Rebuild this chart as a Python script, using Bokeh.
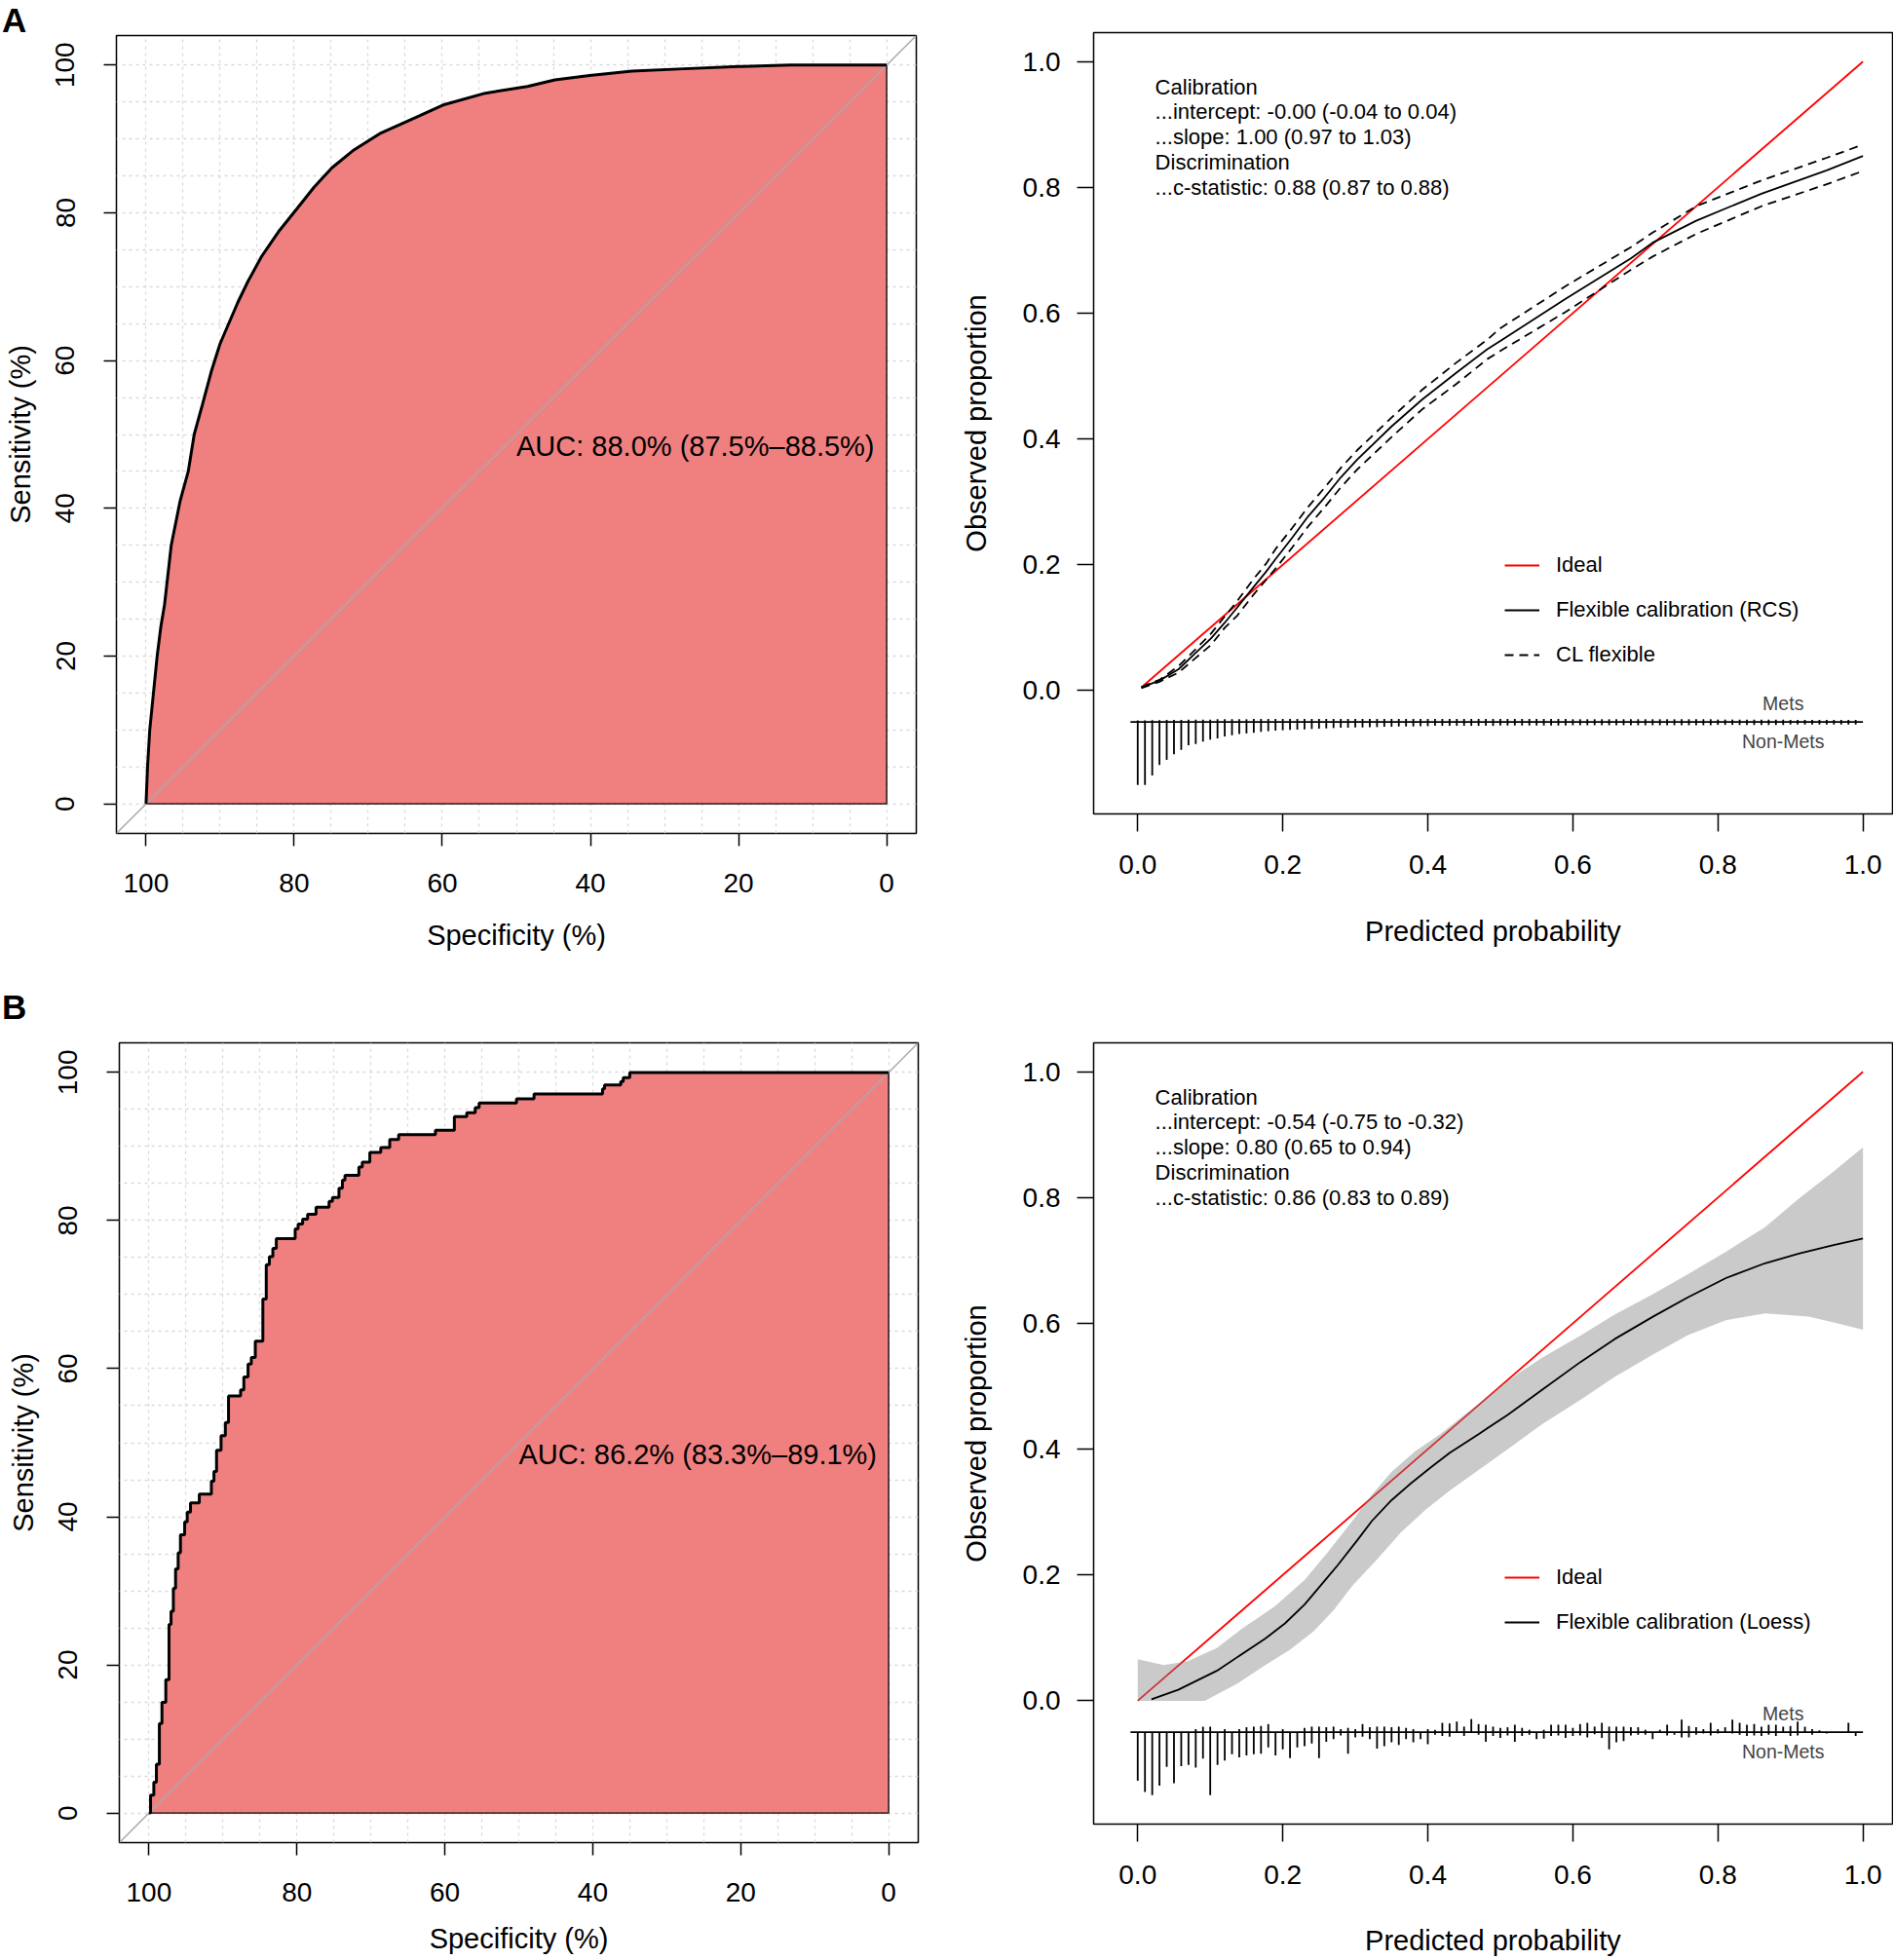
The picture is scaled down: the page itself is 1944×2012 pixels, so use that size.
from bokeh.plotting import figure
from bokeh.models import (Range1d, FixedTicker, PrintfTickFormatter, Label,
                          Legend, LegendItem, Div)
from bokeh.layouts import column, row
from bokeh.embed import file_html
from bokeh.resources import INLINE

FONT = "Liberation Sans"

# ------------------------------------------------------------------ data
roc_ticks = [0, 20, 40, 60, 80, 100]
roc_grid = [0, 5, 10, 15, 20, 25, 30, 35, 40, 45, 50, 55, 60, 65, 70, 75, 80, 85, 90, 95, 100]
cal_ticks = [0.0, 0.2, 0.4, 0.6, 0.8, 1.0]

# Panel A ROC (specificity %, sensitivity %)
specA = [100, 99.8, 99.5, 99.0, 98.5, 98.0, 97.5, 96.6, 95.4, 94.3, 93.5, 92.4, 91.2,
         90.0, 88.8, 87.6, 86.2, 84.4, 82.0, 79.6, 77.3, 74.9, 72.1, 68.3, 63.6, 59.9,
         54.2, 48.5, 44.8, 40.1, 34.4, 27.4, 20.0, 13.0, 0.0]
sensA = [0, 5, 10, 15, 20, 24, 27, 35, 41, 45, 50, 54, 58.5, 62.3, 65.1, 67.9, 70.8,
         74.1, 77.6, 80.6, 83.5, 86.1, 88.4, 90.8, 92.9, 94.6, 96.2, 97.1, 98.0, 98.6,
         99.2, 99.5, 99.8, 100, 100]
aucA = "AUC: 88.0% (87.5%\u201388.5%)"

# Panel B ROC steps: specificity at each vertical step, sensitivity reached
stepB_spec = [99.78, 99.34, 98.99, 98.59, 98.24, 97.72, 97.28, 97.01, 96.70, 96.40,
              96.05, 95.74, 95.17, 94.82, 94.38, 93.19, 91.56, 91.21, 90.86, 90.25,
              89.67, 89.24, 87.61, 87.17, 86.60, 86.16, 85.62, 84.60, 84.14, 83.72,
              83.25, 82.78, 80.23, 79.83, 79.22, 78.55, 77.41, 75.65, 75.19, 74.31,
              73.85, 73.50, 71.62, 71.16, 70.14, 68.66, 67.45, 66.24, 61.27, 58.71,
              57.03, 55.89, 55.36, 50.31, 47.94, 38.68, 38.41, 36.22, 35.88, 35.00]
stepB_sens = [2.42, 4.17, 6.59, 12.08, 14.94, 18.01, 25.48, 27.24, 30.32, 32.95,
              35.15, 37.57, 39.32, 40.64, 41.87, 43.06, 44.82, 46.13, 48.99, 50.97,
              52.72, 56.33, 57.12, 58.88, 60.63, 61.51, 63.70, 69.40, 74.04, 75.13,
              76.23, 77.55, 78.86, 79.52, 80.18, 80.84, 81.80, 82.60, 83.13, 84.36,
              85.46, 86.12, 87.22, 87.88, 89.20, 89.85, 90.95, 91.61, 92.19, 94.03,
              94.56, 95.26, 95.88, 96.45, 97.11, 97.77, 98.30, 98.78, 99.31, 100.0]
aucB = "AUC: 86.2% (83.3%\u201389.1%)"

# Panel A calibration (RCS) with confidence limits
calA_x = [0.005, 0.03, 0.0562, 0.08, 0.101, 0.12, 0.137, 0.16, 0.177, 0.19, 0.213, 0.235,
          0.258, 0.28, 0.3025, 0.35, 0.392, 0.44, 0.482, 0.50, 0.59, 0.68, 0.71, 0.77,
          0.86, 0.95, 1.0]
calA_fit = [0.005, 0.016, 0.034, 0.060, 0.083, 0.108, 0.132, 0.165, 0.189, 0.209, 0.243,
            0.277, 0.3076, 0.339, 0.367, 0.420, 0.4625, 0.506, 0.5426, 0.556, 0.623, 0.687,
            0.712, 0.747, 0.790, 0.827, 0.850]
calA_upper = [0.006, 0.017, 0.039, 0.066, 0.0906, 0.118, 0.142, 0.178, 0.2017, 0.225,
              0.2585, 0.292, 0.323, 0.354, 0.382, 0.434, 0.478, 0.522, 0.558, 0.576, 0.643,
              0.705, 0.728, 0.770, 0.811, 0.847, 0.868]
calA_lower = [0.004, 0.014, 0.0287, 0.052, 0.0725, 0.100, 0.119, 0.153, 0.176, 0.194,
              0.2275, 0.261, 0.292, 0.323, 0.3514, 0.403, 0.447, 0.488, 0.527, 0.540, 0.602,
              0.669, 0.690, 0.726, 0.770, 0.805, 0.826]
idealA_x = [0.008, 1.0]
statsA = ["Calibration", "...intercept: -0.00 (-0.04 to 0.04)", "...slope: 1.00 (0.97 to 1.03)",
          "Discrimination", "...c-statistic: 0.88 (0.87 to 0.88)"]

# Panel B calibration (Loess) with confidence band
calB_x = [0.019, 0.0558, 0.109, 0.176, 0.203, 0.230, 0.2564, 0.276, 0.303, 0.323, 0.350,
          0.377, 0.403, 0.430, 0.470, 0.510, 0.557, 0.611, 0.6575, 0.711, 0.758, 0.811,
          0.865, 0.9115, 0.958, 1.0]
calB_fit = [0.0025, 0.0175, 0.0477, 0.099, 0.123, 0.153, 0.189, 0.216, 0.2556, 0.286, 0.319,
            0.346, 0.370, 0.394, 0.424, 0.4545, 0.494, 0.539, 0.575, 0.611, 0.641, 0.672,
            0.6956, 0.711, 0.724, 0.735]
bandB_up_x = [0.0, 0.036, 0.069, 0.109, 0.143, 0.189, 0.230, 0.263, 0.296, 0.323, 0.350,
              0.383, 0.417, 0.4636, 0.510, 0.557, 0.611, 0.6575, 0.711, 0.758, 0.811, 0.865,
              0.911, 0.958, 1.0]
bandB_up_y = [0.066, 0.057, 0.063, 0.084, 0.114, 0.150, 0.192, 0.2375, 0.286, 0.328, 0.364,
              0.397, 0.424, 0.4666, 0.509, 0.545, 0.581, 0.614, 0.647, 0.678, 0.714, 0.753,
              0.798, 0.840, 0.880]
bandB_lo_x = [0.0, 0.0925, 0.136, 0.176, 0.2095, 0.243, 0.270, 0.296, 0.330, 0.363, 0.397,
              0.430, 0.470, 0.510, 0.557, 0.611, 0.6575, 0.711, 0.758, 0.811, 0.865, 0.925,
              0.958, 1.0]
bandB_lo_y = [0.0, 0.0, 0.0265, 0.057, 0.081, 0.111, 0.144, 0.183, 0.225, 0.268, 0.304,
              0.334, 0.367, 0.400, 0.4395, 0.479, 0.515, 0.551, 0.581, 0.605, 0.616, 0.611,
              0.602, 0.590]
idealB_x = [0.0, 1.0]
statsB = ["Calibration", "...intercept: -0.54 (-0.75 to -0.32)", "...slope: 0.80 (0.65 to 0.94)",
          "Discrimination", "...c-statistic: 0.86 (0.83 to 0.89)"]

# distribution of predicted probabilities (relative frequency per 0.01 bin, % of max)
bins = [0.00, 0.01, 0.02, 0.03, 0.04, 0.05, 0.06, 0.07, 0.08, 0.09,
        0.10, 0.11, 0.12, 0.13, 0.14, 0.15, 0.16, 0.17, 0.18, 0.19,
        0.20, 0.21, 0.22, 0.23, 0.24, 0.25, 0.26, 0.27, 0.28, 0.29,
        0.30, 0.31, 0.32, 0.33, 0.34, 0.35, 0.36, 0.37, 0.38, 0.39,
        0.40, 0.41, 0.42, 0.43, 0.44, 0.45, 0.46, 0.47, 0.48, 0.49,
        0.50, 0.51, 0.52, 0.53, 0.54, 0.55, 0.56, 0.57, 0.58, 0.59,
        0.60, 0.61, 0.62, 0.63, 0.64, 0.65, 0.66, 0.67, 0.68, 0.69,
        0.70, 0.71, 0.72, 0.73, 0.74, 0.75, 0.76, 0.77, 0.78, 0.79,
        0.80, 0.81, 0.82, 0.83, 0.84, 0.85, 0.86, 0.87, 0.88, 0.89,
        0.90, 0.91, 0.92, 0.93, 0.94, 0.95, 0.96, 0.97, 0.98, 0.99]
nonmetsA = [100, 100, 85, 68, 60, 51, 44, 37, 35, 31,
            28, 26, 23, 21, 19, 18, 17, 15.5, 14.5, 13.5,
            13, 12.5, 12, 11.5, 11, 10.5, 10, 9.5, 9, 9,
            8.5, 8.5, 8, 8, 7.5, 7.5, 7, 7, 7, 6.5,
            6.5, 6, 6, 6, 6, 6, 6, 6, 6, 6,
            5.5, 5.5, 5.5, 5.5, 5.5, 5.5, 5.5, 5.5, 5.5, 5.5,
            5, 5, 5, 5, 5, 5, 5, 5, 5, 5,
            5, 5, 5, 5, 5, 5, 5, 5, 5, 5,
            4.5, 4.5, 4.5, 4.5, 4.5, 4.5, 4.5, 4.5, 4.5, 4.5,
            4, 4, 4, 4, 4, 4, 4, 4, 4, 4]
metsA = [2.5, 2.5, 3, 3, 3.5, 3.5, 3.5, 4, 4, 4,
         4, 4.5, 4.5, 4.5, 4.5, 4.5, 5, 5, 5, 5,
         5, 5, 5, 5, 5, 5, 5, 5, 5, 5,
         5, 5, 5, 5, 5, 5, 5, 5, 5, 5,
         5, 5, 5, 5, 5, 5, 5, 5, 5, 5,
         5, 5, 5, 5, 5, 5, 5, 5, 5, 5,
         4.5, 4.5, 4.5, 4.5, 4.5, 4.5, 4.5, 4.5, 4.5, 4.5,
         4.5, 4.5, 4.5, 4.5, 4.5, 4.5, 4.5, 4.5, 4.5, 4.5,
         4, 4, 4, 4, 4, 4, 4, 4, 4, 4,
         3.5, 3.5, 3.5, 3.5, 3.5, 3.5, 3.5, 3.5, 3.5, 3.5]
nonmetsB = [77, 95, 100, 85, 55, 81, 54, 52, 56, 42,
            100, 52, 45, 35, 40, 37, 35, 34, 24, 37,
            27, 41, 24, 22, 18, 41, 15, 11, 5, 34,
            8, 7, 11, 26, 22, 16, 20, 11, 16, 11,
            19, 4, 6, 7, 1, 6, 0, 4, 15, 6,
            9, 5, 15, 6, 4, 11, 10, 6, 5, 9,
            6, 5, 8, 3, 9, 27, 16, 14, 5, 4,
            4, 11, 0, 5, 4, 8, 8, 4, 2, 5,
            2, 0, 2, 4, 6, 5, 6, 4, 6, 0,
            6, 5, 0, 4, 0, 2, 0, 0, 0, 6]
metsB = [0, 0, 0, 0, 0, 0, 0, 0, 5, 9,
         9, 0, 5, 0, 5, 8, 9, 10, 13, 0,
         5, 0, 0, 7, 9, 9, 8, 9, 5, 7,
         5, 13, 8, 9, 9, 8, 9, 7, 5, 0,
         5, 4, 15, 14, 17, 9, 21, 13, 12, 9,
         7, 8, 12, 7, 4, 0, 4, 12, 12, 12,
         7, 13, 15, 9, 15, 9, 9, 9, 8, 8,
         4, 0, 4, 12, 0, 20, 10, 8, 5, 15,
         5, 8, 20, 15, 12, 13, 9, 12, 12, 9,
         10, 17, 9, 5, 3, 0, 0, 0, 15, 0]


# ------------------------------------------------------------------ helpers
def style_axis(ax, tick_out, lab_size, standoff, title_size, title_standoff):
    ax.axis_line_color = None
    ax.major_tick_out = tick_out
    ax.major_tick_in = 0
    ax.major_tick_line_color = "black"
    ax.major_tick_line_width = 1.5
    ax.minor_tick_line_color = None
    ax.major_label_text_font = FONT
    ax.major_label_text_font_size = lab_size
    ax.major_label_text_color = "black"
    ax.major_label_standoff = standoff
    ax.axis_label_text_font = FONT
    ax.axis_label_text_font_size = title_size
    ax.axis_label_text_font_style = "normal"
    ax.axis_label_text_color = "black"
    ax.axis_label_standoff = title_standoff


def letter_div(letter, height, pad_top):
    html = ('<div style="font-family:\'Liberation Sans\',Arial,sans-serif;font-weight:bold;'
            'font-size:35px;line-height:30px;margin:0;padding:%dpx 0 0 2px;color:#000;">%s</div>'
            % (pad_top, letter))
    return Div(text=html, width=982, height=height, margin=0)


def roc_figure(spec, sens, auc_text, bl, br, bt, bb, fw, fh, x_title_standoff):
    p = figure(frame_width=fw, frame_height=fh, x_range=Range1d(104, -4),
               y_range=Range1d(-4, 104), output_backend="svg", toolbar_location=None,
               title=None, min_border_left=bl, min_border_right=br,
               min_border_top=bt, min_border_bottom=bb)
    p.background_fill_color = "white"
    p.border_fill_color = "white"
    p.outline_line_color = "black"
    p.outline_line_width = 1.5
    p.xaxis.ticker = FixedTicker(ticks=roc_ticks)
    p.yaxis.ticker = FixedTicker(ticks=roc_ticks)
    p.xgrid.ticker = FixedTicker(ticks=roc_grid)
    p.ygrid.ticker = FixedTicker(ticks=roc_grid)
    for g in (p.xgrid, p.ygrid):
        g.grid_line_color = "#D9D9D9"
        g.grid_line_dash = "3 4"
        g.grid_line_width = 1.3
    p.xaxis.axis_label = "Specificity (%)"
    p.yaxis.axis_label = "Sensitivity (%)"
    style_axis(p.xaxis[0], 13, "28px", 28, "29px", x_title_standoff)
    style_axis(p.yaxis[0], 13, "28px", 30, "29px", 18)
    p.yaxis.major_label_orientation = "parallel"

    # area under the curve
    px = list(spec) + [0, 100]
    py = list(sens) + [0, 0]
    p.patch(px, py, fill_color="#F08080", line_color="black", line_width=1.3)
    # identity line
    p.line([104, -4], [-4, 104], line_color="#A9A9A9", line_width=1.5)
    # ROC curve
    p.line(spec, sens, line_color="black", line_width=3)
    p.add_layout(Label(x=50, y=48.4, text=auc_text, text_align="left", text_baseline="middle",
                       text_font=FONT, text_font_size="29px", text_color="black"))
    return p


def cal_figure(bt, bb, stats, x_title_standoff):
    p = figure(frame_width=820, frame_height=802, x_range=Range1d(-0.0608, 1.0408),
               y_range=Range1d(-0.196, 1.046), output_backend="svg", toolbar_location=None,
               title=None, min_border_left=140, min_border_right=1,
               min_border_top=bt, min_border_bottom=bb)
    p.background_fill_color = "white"
    p.border_fill_color = "white"
    p.outline_line_color = "black"
    p.outline_line_width = 1.5
    p.grid.visible = False
    p.xaxis.ticker = FixedTicker(ticks=cal_ticks)
    p.yaxis.ticker = FixedTicker(ticks=cal_ticks)
    p.xaxis.formatter = PrintfTickFormatter(format="%.1f")
    p.yaxis.formatter = PrintfTickFormatter(format="%.1f")
    p.xaxis.axis_label = "Predicted probability"
    p.yaxis.axis_label = "Observed proportion"
    style_axis(p.xaxis[0], 18, "28px", 24, "29px", x_title_standoff)
    style_axis(p.yaxis[0], 17, "28px", 17, "29px", 29)
    ys = [0.96, 0.92, 0.88, 0.84, 0.80]
    for t, yy in zip(stats, ys):
        p.add_layout(Label(x=0.024, y=yy, text=t, text_align="left", text_baseline="middle",
                           text_font=FONT, text_font_size="22px", text_color="black"))
    return p


def draw_hist(p, mets, nonmets):
    line_y = -0.05
    maxf = max(max(mets), max(nonmets))
    b1 = [b for b, f in zip(bins, mets) if f > 0]
    f1 = [f for f in mets if f > 0]
    b0 = [b for b, f in zip(bins, nonmets) if f > 0]
    f0 = [f for f in nonmets if f > 0]
    p.segment(x0=b1, y0=[line_y] * len(b1), x1=b1, y1=[line_y + 0.1 * f / maxf for f in f1],
              line_color="black", line_width=1.8)
    p.segment(x0=b0, y0=[line_y] * len(b0), x1=b0, y1=[line_y - 0.1 * f / maxf for f in f0],
              line_color="black", line_width=1.8)
    lo = min(b0 + b1) - 0.01
    hi = max(b0 + b1) + 0.01
    p.line([lo, hi], [line_y, line_y], line_color="black", line_width=1.8)
    xl = max(b0 + b1) - 0.1
    p.add_layout(Label(x=xl, y=line_y + 0.03, text="Mets", text_align="center",
                       text_baseline="middle", text_font=FONT, text_font_size="19.5px"))
    p.add_layout(Label(x=xl, y=line_y - 0.03, text="Non-Mets", text_align="center",
                       text_baseline="middle", text_font=FONT, text_font_size="19.5px"))


def legend(p, items, vy):
    lg = Legend(items=items, location=(422, vy), orientation="vertical", glyph_width=36,
                glyph_height=30, label_height=30, spacing=16, padding=0, margin=0,
                label_standoff=17, label_text_font=FONT, label_text_font_size="22px",
                label_text_color="black", border_line_color=None, background_fill_alpha=0)
    p.add_layout(lg)


# ------------------------------------------------------------------ panel A
rocA = roc_figure(specA, sensA, aucA, 119, 42, 2, 145, 821, 819, 25)

calA = cal_figure(33, 165, statsA, 40)
rA_ideal = calA.line(idealA_x, idealA_x, line_color="red", line_width=1.8)
rA_fit = calA.line(calA_x, calA_fit, line_color="black", line_width=1.8)
rA_up = calA.line(calA_x, calA_upper, line_color="black", line_width=1.8, line_dash="9 6")
calA.line(calA_x, calA_lower, line_color="black", line_width=1.8, line_dash="9 6")
draw_hist(calA, metsA, nonmetsA)
legend(calA, [LegendItem(label="Ideal", renderers=[rA_ideal]),
              LegendItem(label="Flexible calibration (RCS)", renderers=[rA_fit]),
              LegendItem(label="CL flexible", renderers=[rA_up])], 148)

# ------------------------------------------------------------------ panel B
sx = [100]
sy = [0]
prev = 0
for s, v in zip(stepB_spec, stepB_sens):
    sx += [s, s]
    sy += [prev, v]
    prev = v
sx.append(0)
sy.append(100)
rocB = roc_figure(sx, sy, aucB, 122, 40, 10, 120, 820, 821, 19)

calB = cal_figure(70, 139, statsB, 39)
rB_ideal = calB.line(idealB_x, idealB_x, line_color="red", line_width=1.8)
calB.patch(bandB_up_x + bandB_lo_x[::-1], bandB_up_y + bandB_lo_y[::-1],
           fill_color="#808080", fill_alpha=0.42, line_color=None)
rB_fit = calB.line(calB_x, calB_fit, line_color="black", line_width=1.8)
draw_hist(calB, metsB, nonmetsB)
legend(calB, [LegendItem(label="Ideal", renderers=[rB_ideal]),
              LegendItem(label="Flexible calibration (Loess)", renderers=[rB_fit])], 192)

colA = column(letter_div("A", 34, 6), rocA, spacing=0)
colB = column(letter_div("B", 60, 19), rocB, spacing=0)
layout = column(row(colA, calA, spacing=0), row(colB, calB, spacing=0), spacing=0)
open("out.html", "w").write(file_html(layout, INLINE))
